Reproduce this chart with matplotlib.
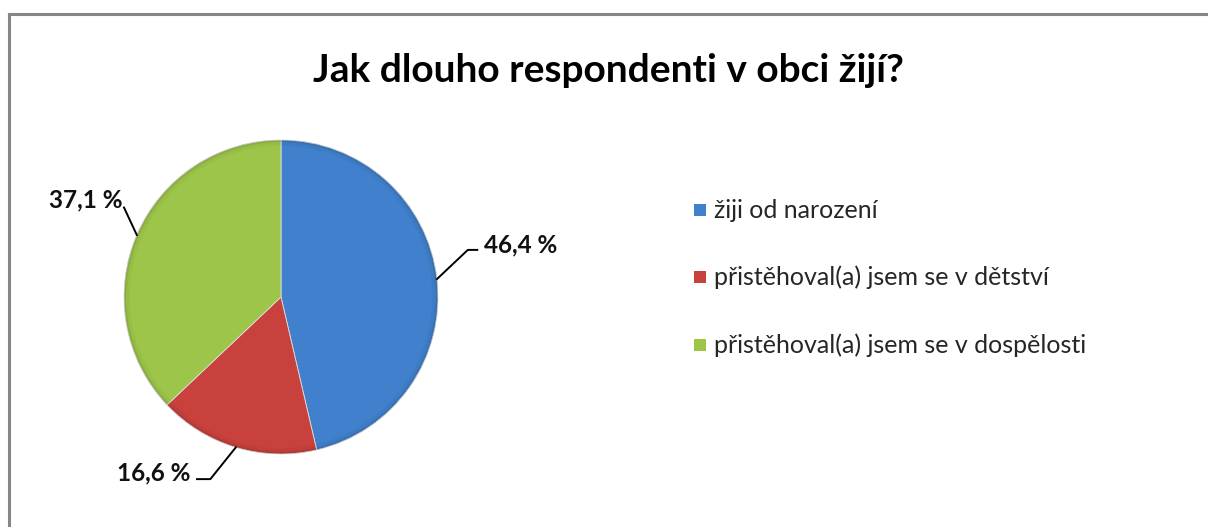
import numpy as np
import matplotlib
matplotlib.use("Agg")
import matplotlib.pyplot as plt
from matplotlib.lines import Line2D
from matplotlib.patches import Rectangle

title = "Jak dlouho respondenti v obci žijí?"
categories = ["žiji od narození", "přistěhoval(a) jsem se v dětství", "přistěhoval(a) jsem se v dospělosti"]
values = [46.4, 16.6, 37.1]
labels = ["46,4 %", "16,6 %", "37,1 %"]
colors = ["#4080CC", "#C8413C", "#9DC54A"]

plt.rcParams['font.family'] = ['Lato', 'DejaVu Sans']

W, H = 1208, 527
fig = plt.figure(figsize=(W / 100, H / 100), dpi=100)
fig.patch.set_facecolor("white")

# frame lines (top & left)
fig.add_artist(Line2D([9 / W, 1.0], [1 - 14 / H, 1 - 14 / H], color="#868686", lw=2.2))
fig.add_artist(Line2D([9 / W, 9 / W], [0, 1 - 14 / H], color="#868686", lw=2.2))

fig.text(608 / W, 1 - 70 / H, title, ha="center", va="center", fontsize=28, fontweight="bold", color="#000000")

cx, cy, r = 281, 297, 157
ax = fig.add_axes([(cx - r) / W, (H - cy - r) / H, 2 * r / W, 2 * r / H])
wedges, _ = ax.pie(values, colors=colors, startangle=90, counterclock=False, radius=1,
                   wedgeprops=dict(linewidth=0.6, edgecolor="#dddddd"))
ax.set_xlim(-1, 1)
ax.set_ylim(-1, 1)
ax.set_aspect("equal")
ax.axis("off")

# subtle darker rim (office-style bevel)
for rr, a in [(0.995, 0.10), (0.985, 0.06), (0.97, 0.03)]:
    ax.add_patch(plt.Circle((0, 0), rr, fill=False, edgecolor="black", lw=1.5, alpha=a))

# leader lines and labels (in axes data units, radius = 1)
label_cfg = [
    dict(elbow=(1.19, 0.30), end=(1.25, 0.30), text=(1.29, 0.33), ha="left"),
    dict(elbow=(-0.45, -1.16), end=(-0.535, -1.16), text=(-0.58, -1.12), ha="right"),
    dict(elbow=(-1.00, 0.57), end=(-1.00, 0.57), text=(-1.01, 0.62), ha="right"),
]
start = 90.0
total = sum(values)
mids = []
for v in values:
    span = 360.0 * v / total
    mids.append(start - span / 2)
    start -= span

for lab, cfg, m in zip(labels, label_cfg, mids):
    ep = (np.cos(np.radians(m)), np.sin(np.radians(m)))
    xs = [ep[0], cfg["elbow"][0], cfg["end"][0]]
    ys = [ep[1], cfg["elbow"][1], cfg["end"][1]]
    ax.plot(xs, ys, color="black", lw=1.4, clip_on=False)
    ax.text(cfg["text"][0], cfg["text"][1], lab, ha=cfg["ha"], va="center",
            fontsize=17.5, fontweight="bold", color="#111111", clip_on=False)

# legend (manual)
leg_y = [210, 277, 345]
for c, name, y in zip(colors, categories, leg_y):
    fig.add_artist(Rectangle((694 / W, 1 - (y + 6) / H), 12 / W, 12 / H,
                             facecolor=c, edgecolor="none", transform=fig.transFigure))
    fig.text(714 / W, 1 - y / H, name, ha="left", va="center", fontsize=18, color="#262626")

fig.savefig("out.png", dpi=100, facecolor="white")
